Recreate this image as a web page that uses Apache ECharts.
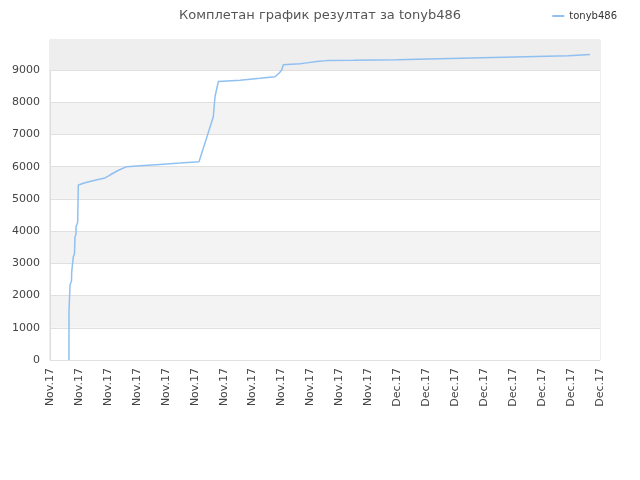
<!DOCTYPE html>
<html><head><meta charset="utf-8">
<script src="https://cdn.jsdelivr.net/npm/echarts@6/dist/echarts.min.js"></script>
<style>html,body{margin:0;padding:0;background:#fff}#c{width:640px;height:480px}</style>
</head><body><div id="c"></div>
<script>
const tickLabels = ["Nov.17","Nov.17","Nov.17","Nov.17","Nov.17","Nov.17","Nov.17","Nov.17","Nov.17","Nov.17","Nov.17","Nov.17","Dec.17","Dec.17","Dec.17","Dec.17","Dec.17","Dec.17","Dec.17","Dec.17"];
const seriesName = "tonyb486";
const xPos = [0.656,0.656,0.691,0.691,0.743,0.750,0.795,0.805,0.846,0.864,0.898,0.898,0.950,0.957,0.978,0.978,1.209,1.555,1.900,2.073,2.349,2.650,3.109,3.800,4.491,5.147,5.413,5.641,5.700,5.814,6.564,7.255,7.773,7.911,8.004,8.060,8.636,8.868,9.213,9.559,10.478,10.478,11.977,11.977,13.449,13.449,14.934,14.934,16.409,16.409,17.905,17.905,18.655];
const yVal = [0,1500,1550,2330,2450,2740,2800,3200,3300,3830,3900,4140,4250,4350,4400,5430,5500,5580,5650,5740,5880,6000,6030,6070,6110,6150,6900,7550,8170,8640,8680,8740,8790,8900,9000,9160,9190,9220,9260,9290,9300,9320,9320,9350,9350,9380,9380,9410,9410,9440,9440,9480,9480];

const data = xPos.map((x,i)=>[x,yVal[i]]);
const chart = echarts.init(document.getElementById('c'));
const font = 'DejaVu Sans';
chart.setOption({
  animation:false,
  title:{text:'Комплетан график резултат за tonyb486',left:'center',top:4,
    textStyle:{fontFamily:font,fontSize:13,fontWeight:'normal',color:'#555'}},
  legend:{data:[seriesName],right:18,top:6,itemWidth:12,itemHeight:2,icon:'rect',
    textStyle:{fontFamily:font,fontSize:10,color:'#333'}},
  grid:{left:50,right:40,top:40,bottom:120,show:true,borderColor:'#ddd',borderWidth:1},
  xAxis:{type:'value',min:0,max:19,interval:1,
    axisLine:{show:false},axisTick:{show:false},splitLine:{show:false},
    axisLabel:{rotate:90,fontFamily:font,fontSize:11,color:'#444',margin:8,
      formatter:v=>tickLabels[Math.round(v)]||''}},
  yAxis:{type:'value',min:0,max:9930,interval:1000,
    axisLine:{show:true,lineStyle:{color:'#ddd'}},axisTick:{show:false},
    axisLabel:{fontFamily:font,fontSize:11,color:'#444',showMaxLabel:false,margin:10,
      formatter:v=>String(v)},
    splitLine:{lineStyle:{color:'#e0e0e0'}},
    splitArea:{show:true,areaStyle:{color:['#ffffff','#f3f3f3']}}},
  series:[{name:seriesName,type:'line',data:data,showSymbol:false,symbol:'none',
    lineStyle:{color:'#90c0f2',width:1.5},itemStyle:{color:'#90c0f2'},
    markArea:{silent:true,itemStyle:{color:'#eeeeee'},data:[[{yAxis:9000},{yAxis:9930}]]}}]
});
</script></body></html>
